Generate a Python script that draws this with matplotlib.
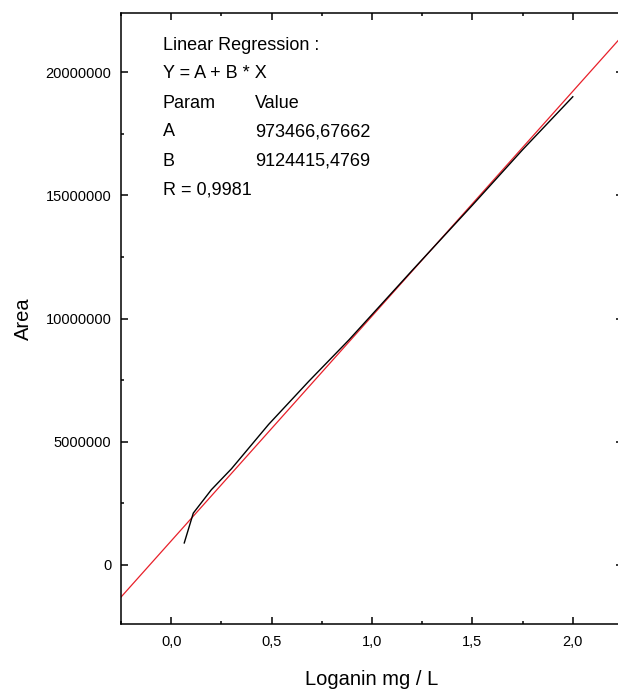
import matplotlib
matplotlib.use("Agg")
import matplotlib.pyplot as plt
import numpy as np
from matplotlib.ticker import MultipleLocator, FuncFormatter

# --- data ---
conc = [0.065, 0.11, 0.2, 0.3, 0.485, 0.685, 0.885, 1.2, 1.5, 1.75, 2.0]
area = [0.89e6, 2.1e6, 3.05e6, 3.9e6, 5.7e6, 7.45e6, 9.13e6, 11.95e6, 14.6e6, 16.85e6, 19.0e6]

A = 973466.67662
B = 9124415.4769
R = 0.9981

fit_x = [-0.25, 2.25]

plt.rcParams['font.family'] = ['Liberation Sans', 'DejaVu Sans']

fig = plt.figure(figsize=(6.18, 6.90), dpi=100)
# right edge of the axes falls just past the image, as in the original
ax = fig.add_axes([121 / 618, 66 / 690, 502 / 618, 611 / 690])

ax.plot(conc, area, color='black', lw=1.0, zorder=3)
ax.plot(fit_x, [A + B * v for v in fit_x], color='#e8202a', lw=0.9, zorder=2)

ax.set_xlim(-0.25, 2.25)
ax.set_ylim(-2.4e6, 22.4e6)

ax.xaxis.set_major_locator(MultipleLocator(0.5))
ax.xaxis.set_minor_locator(MultipleLocator(0.25))
ax.yaxis.set_major_locator(MultipleLocator(5e6))
ax.yaxis.set_minor_locator(MultipleLocator(2.5e6))

ax.xaxis.set_major_formatter(FuncFormatter(lambda v, p: f"{v:.1f}".replace('.', ',')))
ax.yaxis.set_major_formatter(FuncFormatter(lambda v, p: f"{int(round(v))}"))

ax.tick_params(which='both', direction='in', top=True, right=True, width=1.1)
ax.tick_params(which='major', length=5)
ax.tick_params(which='minor', length=2.5)
ax.tick_params(axis='y', labelsize=10.5, pad=7)
ax.tick_params(axis='x', labelsize=10.5, pad=8)

for s in ax.spines.values():
    s.set_linewidth(1.1)

ax.set_xlabel("Loganin mg / L", fontsize=14.5, labelpad=15)
ax.set_ylabel("Area", fontsize=14.5, labelpad=9)

# regression box text
rows = [
    ("Linear Regression :", ""),
    ("Y = A + B * X", ""),
    ("Param", "Value"),
    ("A", f"{A:.5f}".replace('.', ',')),
    ("B", f"{B:.4f}".replace('.', ',')),
    (f"R = {R}".replace('.', ','), ""),
]
x0 = (163 - 121) / 502
x1 = (255 - 121) / 502
for i, (left, right) in enumerate(rows):
    yy = (624 - (45 + 29 * i)) / 611
    ax.text(x0, yy, left, transform=ax.transAxes, fontsize=13, va='center', ha='left')
    if right:
        ax.text(x1, yy, right, transform=ax.transAxes, fontsize=13, va='center', ha='left')

fig.savefig("out.png", dpi=100)
